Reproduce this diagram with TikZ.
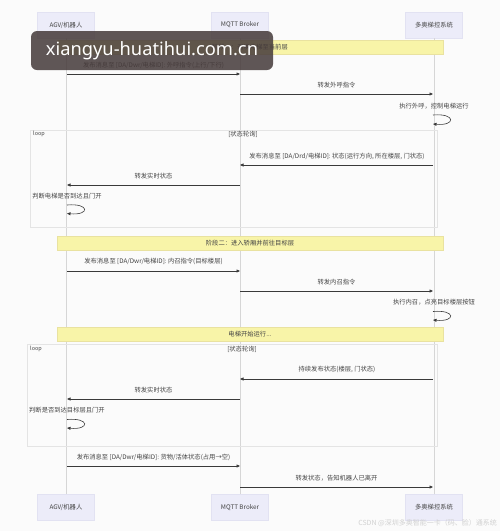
\documentclass[tikz,border=0pt]{standalone}
\usepackage{fontspec}
\setmainfont{Noto Sans CJK SC}
\newfontfamily\wmfont{Noto Sans}
\usetikzlibrary{arrows.meta}
\definecolor{bgc}{HTML}{FBFBFB}
\definecolor{actfill}{HTML}{ECECF9}
\definecolor{actdraw}{HTML}{E2E2F2}
\definecolor{notefill}{HTML}{F8F4A8}
\definecolor{notedraw}{HTML}{E9E2A0}
\definecolor{lifec}{HTML}{D6D6D6}
\definecolor{framec}{HTML}{E4E4E4}
\definecolor{msgc}{HTML}{3A3A3A}
\definecolor{txtc}{HTML}{444444}
\definecolor{wmfill}{HTML}{463B3B}
\tikzset{
  actor/.style={fill=actfill, draw=actdraw, line width=0.3pt, minimum width=57pt, minimum height=26pt, inner sep=0pt, font=\fontsize{6.3}{7}\selectfont, text=txtc},
  notebox/.style={fill=notefill, draw=notedraw, line width=0.4pt, minimum width=386pt, minimum height=14.5pt, inner sep=0pt, font=\fontsize{6.3}{7}\selectfont, text=txtc},
  lifeline/.style={draw=lifec, line width=0.5pt},
  frame/.style={draw=framec, line width=0.6pt},
  msg/.style={draw=msgc, line width=0.6pt, -{Triangle[length=3.5pt,width=3pt]}},
  lbl/.style={font=\fontsize{6.3}{7}\selectfont, text=txtc, inner sep=0pt},
}
\begin{document}
\begin{tikzpicture}[x=1pt,y=-1pt]
\useasboundingbox[fill=bgc] (0,0) rectangle (500,531);
% actors
\node[actor] (a1t) at (66,25) {AGV/机器人};
\node[actor] (a2t) at (240,25) {MQTT Broker};
\node[actor] (a3t) at (434,25) {多奥梯控系统};
\node[actor] (a1b) at (66,507.5) {AGV/机器人};
\node[actor] (a2b) at (240,507.5) {MQTT Broker};
\node[actor] (a3b) at (434,507.5) {多奥梯控系统};
\draw[lifeline] (a1t.south) -- (a1b.north);
\draw[lifeline] (a2t.south) -- (a2b.north);
\draw[lifeline] (a3t.south) -- (a3b.north);
% loop frames
\draw[frame] (30,130) rectangle (437,227);
\node[lbl, anchor=west, font=\fontsize{5.5}{6}\selectfont] (lp1) at (33,134) {loop};
\node[lbl] (lc1) at (243,134.5) {[状态轮询]};
\draw[frame] (27,344) rectangle (437,446);
\node[lbl, anchor=west, font=\fontsize{5.5}{6}\selectfont] (lp2) at (30,349) {loop};
\node[lbl] (lc2) at (242,349.5) {[状态轮询]};
% notes
\node[notebox] (n1) at (250,47) {阶段一：召唤电梯至当前层};
\node[notebox] (n2) at (250,243) {阶段二：进入轿厢并前往目标层};
\node[notebox] (n3) at (250,334) {电梯开始运行...};
% coordinates on lifelines
\foreach \n/\y in {1/74,2/94,4/165,5/185,7/271,8/291,10/379,11/399,13/466,14/487}{
  \coordinate (L1-\n) at (67,\y);
  \coordinate (L2-\n) at (240,\y);
  \coordinate (L3-\n) at (433,\y);
}
% messages
\draw[msg] (L1-1) -- (L2-1);
\node[lbl] (t1) at (153.5,65.5) {发布消息至 [DA/Dwr/电梯ID]: 外呼指令(上行/下行)};
\draw[msg] (L2-2) -- (L3-2);
\node[lbl] (t2) at (336.5,85) {转发外呼指令};
\node[lbl] (t3) at (434,106) {执行外呼，控制电梯运行};
\coordinate (s3a) at (433,115);
\coordinate (s3b) at (433,124);
\draw[msg] (s3a) .. controls (456,113) and (456,126) .. (s3b);
\draw[msg] (L3-4) -- (L2-4);
\node[lbl] (t4) at (337,156) {发布消息至 [DA/Drd/电梯ID]: 状态(运行方向, 所在楼层, 门状态)};
\draw[msg] (L2-5) -- (L1-5);
\node[lbl] (t5) at (153.5,176) {转发实时状态};
\node[lbl] (t6) at (67,196) {判断电梯是否到达且门开};
\coordinate (s6a) at (67,205);
\coordinate (s6b) at (67,213.5);
\draw[msg] (s6a) .. controls (90,203) and (90,215.5) .. (s6b);
\draw[msg] (L1-7) -- (L2-7);
\node[lbl] (t7) at (153.5,261) {发布消息至 [DA/Dwr/电梯ID]: 内召指令(目标楼层)};
\draw[msg] (L2-8) -- (L3-8);
\node[lbl] (t8) at (336.5,282) {转发内召指令};
\node[lbl] (t9) at (434,302) {执行内召，点亮目标楼层按钮};
\coordinate (s9a) at (433,311.5);
\coordinate (s9b) at (433,320);
\draw[msg] (s9a) .. controls (456,309.5) and (456,322) .. (s9b);
\draw[msg] (L3-10) -- (L2-10);
\node[lbl] (t10) at (337,369) {持续发布状态(楼层, 门状态)};
\draw[msg] (L2-11) -- (L1-11);
\node[lbl] (t11) at (153.5,390) {转发实时状态};
\node[lbl] (t12) at (67,410.5) {判断是否到达目标层且门开};
\coordinate (s12a) at (67,419.5);
\coordinate (s12b) at (67,428);
\draw[msg] (s12a) .. controls (90,417.5) and (90,430) .. (s12b);
\draw[msg] (L1-13) -- (L2-13);
\node[lbl] (t13) at (153.5,457) {发布消息至 [DA/Dwr/电梯ID]: 货物/活体状态(占用→空)};
\draw[msg] (L2-14) -- (L3-14);
\node[lbl] (t14) at (336.5,478) {转发状态，告知机器人已离开};
% watermarks
\node[fill=wmfill, fill opacity=0.86, text opacity=1, text=white, rounded corners=6pt, minimum width=242pt, minimum height=39pt, inner sep=0pt, font=\wmfont\fontsize{18.3}{21}\selectfont] (wm) at (152,50.5) {xiangyu-huatihui.com.cn};
\node[lbl, text=black!18, font=\fontsize{7}{8}\selectfont, anchor=east] (csdn) at (497,523) {CSDN @深圳多奥智能一卡（码、脸）通系统};
\end{tikzpicture}
\end{document}
